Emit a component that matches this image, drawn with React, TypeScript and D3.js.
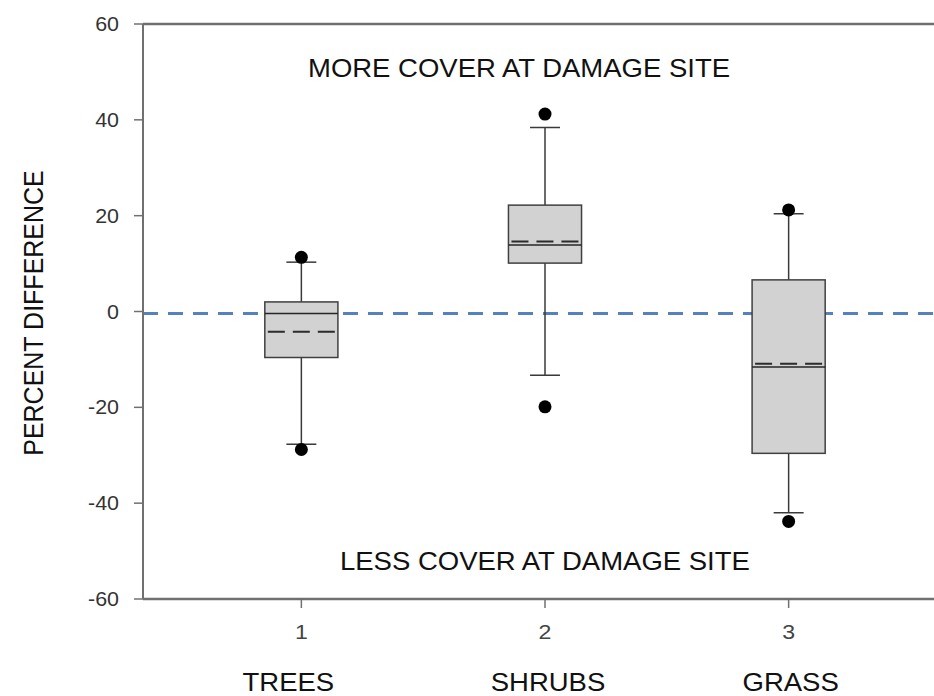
import React, { useEffect, useRef } from 'react';
import * as d3 from 'd3';

// Box plot summary values (percent difference)
const categories = ['TREES', 'SHRUBS', 'GRASS'];
const positions = [1, 2, 3];
const q1Values = [-9.6, 10.1, -29.6];
const q3Values = [2.0, 22.2, 6.6];
const medianValues = [-0.4, 13.9, -11.6];
const meanValues = [-4.2, 14.6, -10.9];
const whiskerLow = [-27.7, -13.3, -42.0];
const whiskerHigh = [10.3, 38.4, 20.4];
const outlierValues = [[11.3, -28.8], [41.2, -19.9], [21.2, -43.8]];
const yTicks = [-60, -40, -20, 0, 20, 40, 60];
const topNote = 'MORE COVER AT DAMAGE SITE';
const bottomNote = 'LESS COVER AT DAMAGE SITE';
const yLabel = 'PERCENT DIFFERENCE';

const WIDTH = 934;
const HEIGHT = 696;
const FONT = '"Liberation Sans", Arial, Helvetica, sans-serif';
const STRETCH = 1.1; // the source image is a little wider than tall
const NAME_NUDGE = [-13, 3, 2]; // category names are not exactly centred under ticks

const App: React.FC = () => {
  const svgRef = useRef<SVGSVGElement>(null);

  useEffect(() => {
    if (!svgRef.current) return;
    const svg = d3.select(svgRef.current);
    svg.selectAll('*').remove();

    const plot = { left: 143, right: 947, top: 24, bottom: 599 };

    const x = d3.scaleLinear().domain([0.35, 3.65]).range([plot.left, plot.right]);
    const y = d3.scaleLinear().domain([-60, 60]).range([plot.bottom, plot.top]);

    const boxW = x(1.3) - x(1);
    const capW = x(1.0615) - x(1);

    const stats = categories.map((c, i) => ({
      name: c,
      pos: positions[i],
      q1: q1Values[i],
      q3: q3Values[i],
      median: medianValues[i],
      mean: meanValues[i],
      lo: whiskerLow[i],
      hi: whiskerHigh[i],
      outliers: outlierValues[i]
    }));

    svg.append('rect').attr('width', WIDTH).attr('height', HEIGHT).attr('fill', '#fff');

    // zero reference line
    svg.append('line')
      .attr('x1', plot.left)
      .attr('x2', WIDTH)
      .attr('y1', y(0) + 2)
      .attr('y2', y(0) + 2)
      .attr('stroke', '#5681c0')
      .attr('stroke-width', 3)
      .attr('stroke-dasharray', '15,10');

    const g = svg.append('g');

    // whiskers
    stats.forEach(d => {
      const cx = x(d.pos);
      g.append('line')
        .attr('x1', cx).attr('x2', cx)
        .attr('y1', y(d.q3)).attr('y2', y(d.hi))
        .attr('stroke', '#3a3a3a').attr('stroke-width', 1.5);
      g.append('line')
        .attr('x1', cx).attr('x2', cx)
        .attr('y1', y(d.q1)).attr('y2', y(d.lo))
        .attr('stroke', '#3a3a3a').attr('stroke-width', 1.5);
      [d.hi, d.lo].forEach(v => {
        g.append('line')
          .attr('x1', cx - capW).attr('x2', cx + capW)
          .attr('y1', y(v)).attr('y2', y(v))
          .attr('stroke', '#3a3a3a').attr('stroke-width', 1.5);
      });
    });

    // boxes
    g.selectAll('.box')
      .data(stats)
      .enter().append('rect')
      .attr('class', 'box')
      .attr('x', d => x(d.pos) - boxW / 2)
      .attr('width', boxW)
      .attr('y', d => y(d.q3))
      .attr('height', d => y(d.q1) - y(d.q3))
      .attr('fill', '#d2d2d2')
      .attr('stroke', '#404040')
      .attr('stroke-width', 1.5);

    // medians
    g.selectAll('.median')
      .data(stats)
      .enter().append('line')
      .attr('x1', d => x(d.pos) - boxW / 2)
      .attr('x2', d => x(d.pos) + boxW / 2)
      .attr('y1', d => y(d.median))
      .attr('y2', d => y(d.median))
      .attr('stroke', '#262626')
      .attr('stroke-width', 1.5);

    // means
    g.selectAll('.mean')
      .data(stats)
      .enter().append('line')
      .attr('x1', d => x(d.pos) - boxW / 2 + 3)
      .attr('x2', d => x(d.pos) + boxW / 2 - 3)
      .attr('y1', d => y(d.mean))
      .attr('y2', d => y(d.mean))
      .attr('stroke', '#2b2b2b')
      .attr('stroke-width', 2)
      .attr('stroke-dasharray', '17,8');

    // outliers
    stats.forEach(d => {
      g.selectAll(null)
        .data(d.outliers)
        .enter().append('circle')
        .attr('cx', x(d.pos))
        .attr('cy', v => y(v))
        .attr('r', 6.5)
        .attr('fill', '#000');
    });

    // axes frame
    const axisColor = '#707070';
    svg.append('line')
      .attr('x1', plot.left).attr('x2', plot.left)
      .attr('y1', plot.top).attr('y2', plot.bottom)
      .attr('stroke', axisColor).attr('stroke-width', 2);
    svg.append('line')
      .attr('x1', plot.left).attr('x2', WIDTH)
      .attr('y1', plot.top).attr('y2', plot.top)
      .attr('stroke', axisColor).attr('stroke-width', 2.5);
    svg.append('line')
      .attr('x1', plot.left).attr('x2', WIDTH)
      .attr('y1', plot.bottom).attr('y2', plot.bottom)
      .attr('stroke', axisColor).attr('stroke-width', 2.5);

    // y ticks
    yTicks.forEach(t => {
      svg.append('line')
        .attr('x1', plot.left - 9).attr('x2', plot.left)
        .attr('y1', y(t)).attr('y2', y(t))
        .attr('stroke', axisColor).attr('stroke-width', 1.5);
      svg.append('text')
        .attr('transform', `translate(${plot.left - 24},${y(t) + 7}) scale(${STRETCH},1)`)
        .attr('text-anchor', 'end')
        .style('font-family', FONT)
        .style('font-size', '19.5px')
        .attr('fill', '#333')
        .text(t);
    });

    // x ticks and labels
    stats.forEach((d, i) => {
      const cx = x(d.pos);
      svg.append('line')
        .attr('x1', cx).attr('x2', cx)
        .attr('y1', plot.bottom).attr('y2', plot.bottom + 9)
        .attr('stroke', axisColor).attr('stroke-width', 1.5);
      svg.append('text')
        .attr('transform', `translate(${cx},${plot.bottom + 40}) scale(${STRETCH},1)`)
        .attr('text-anchor', 'middle')
        .style('font-family', FONT)
        .style('font-size', '21px')
        .attr('fill', '#444')
        .text(d.pos);
      svg.append('text')
        .attr('transform', `translate(${cx + NAME_NUDGE[i]},${plot.bottom + 92}) scale(${STRETCH},1)`)
        .attr('text-anchor', 'middle')
        .style('font-family', FONT)
        .style('font-size', '25px')
        .attr('fill', '#111')
        .text(d.name);
    });

    // annotations
    svg.append('text')
      .attr('transform', `translate(308,77) scale(${STRETCH},1)`)
      .style('font-family', FONT)
      .style('font-size', '25px')
      .attr('fill', '#111')
      .text(topNote);
    svg.append('text')
      .attr('transform', `translate(340,570) scale(${STRETCH},1)`)
      .style('font-family', FONT)
      .style('font-size', '25px')
      .attr('fill', '#111')
      .text(bottomNote);

    // y axis title
    svg.append('text')
      .attr('transform', `translate(43,313) scale(${STRETCH},1) rotate(-90)`)
      .attr('text-anchor', 'middle')
      .style('font-family', FONT)
      .style('font-size', '25px')
      .attr('fill', '#111')
      .text(yLabel);
  }, []);

  return (
    <svg
      ref={svgRef}
      width={WIDTH}
      height={HEIGHT}
      style={{ position: 'absolute', left: 0, top: 0, display: 'block' }}
    />
  );
};

export default App;
